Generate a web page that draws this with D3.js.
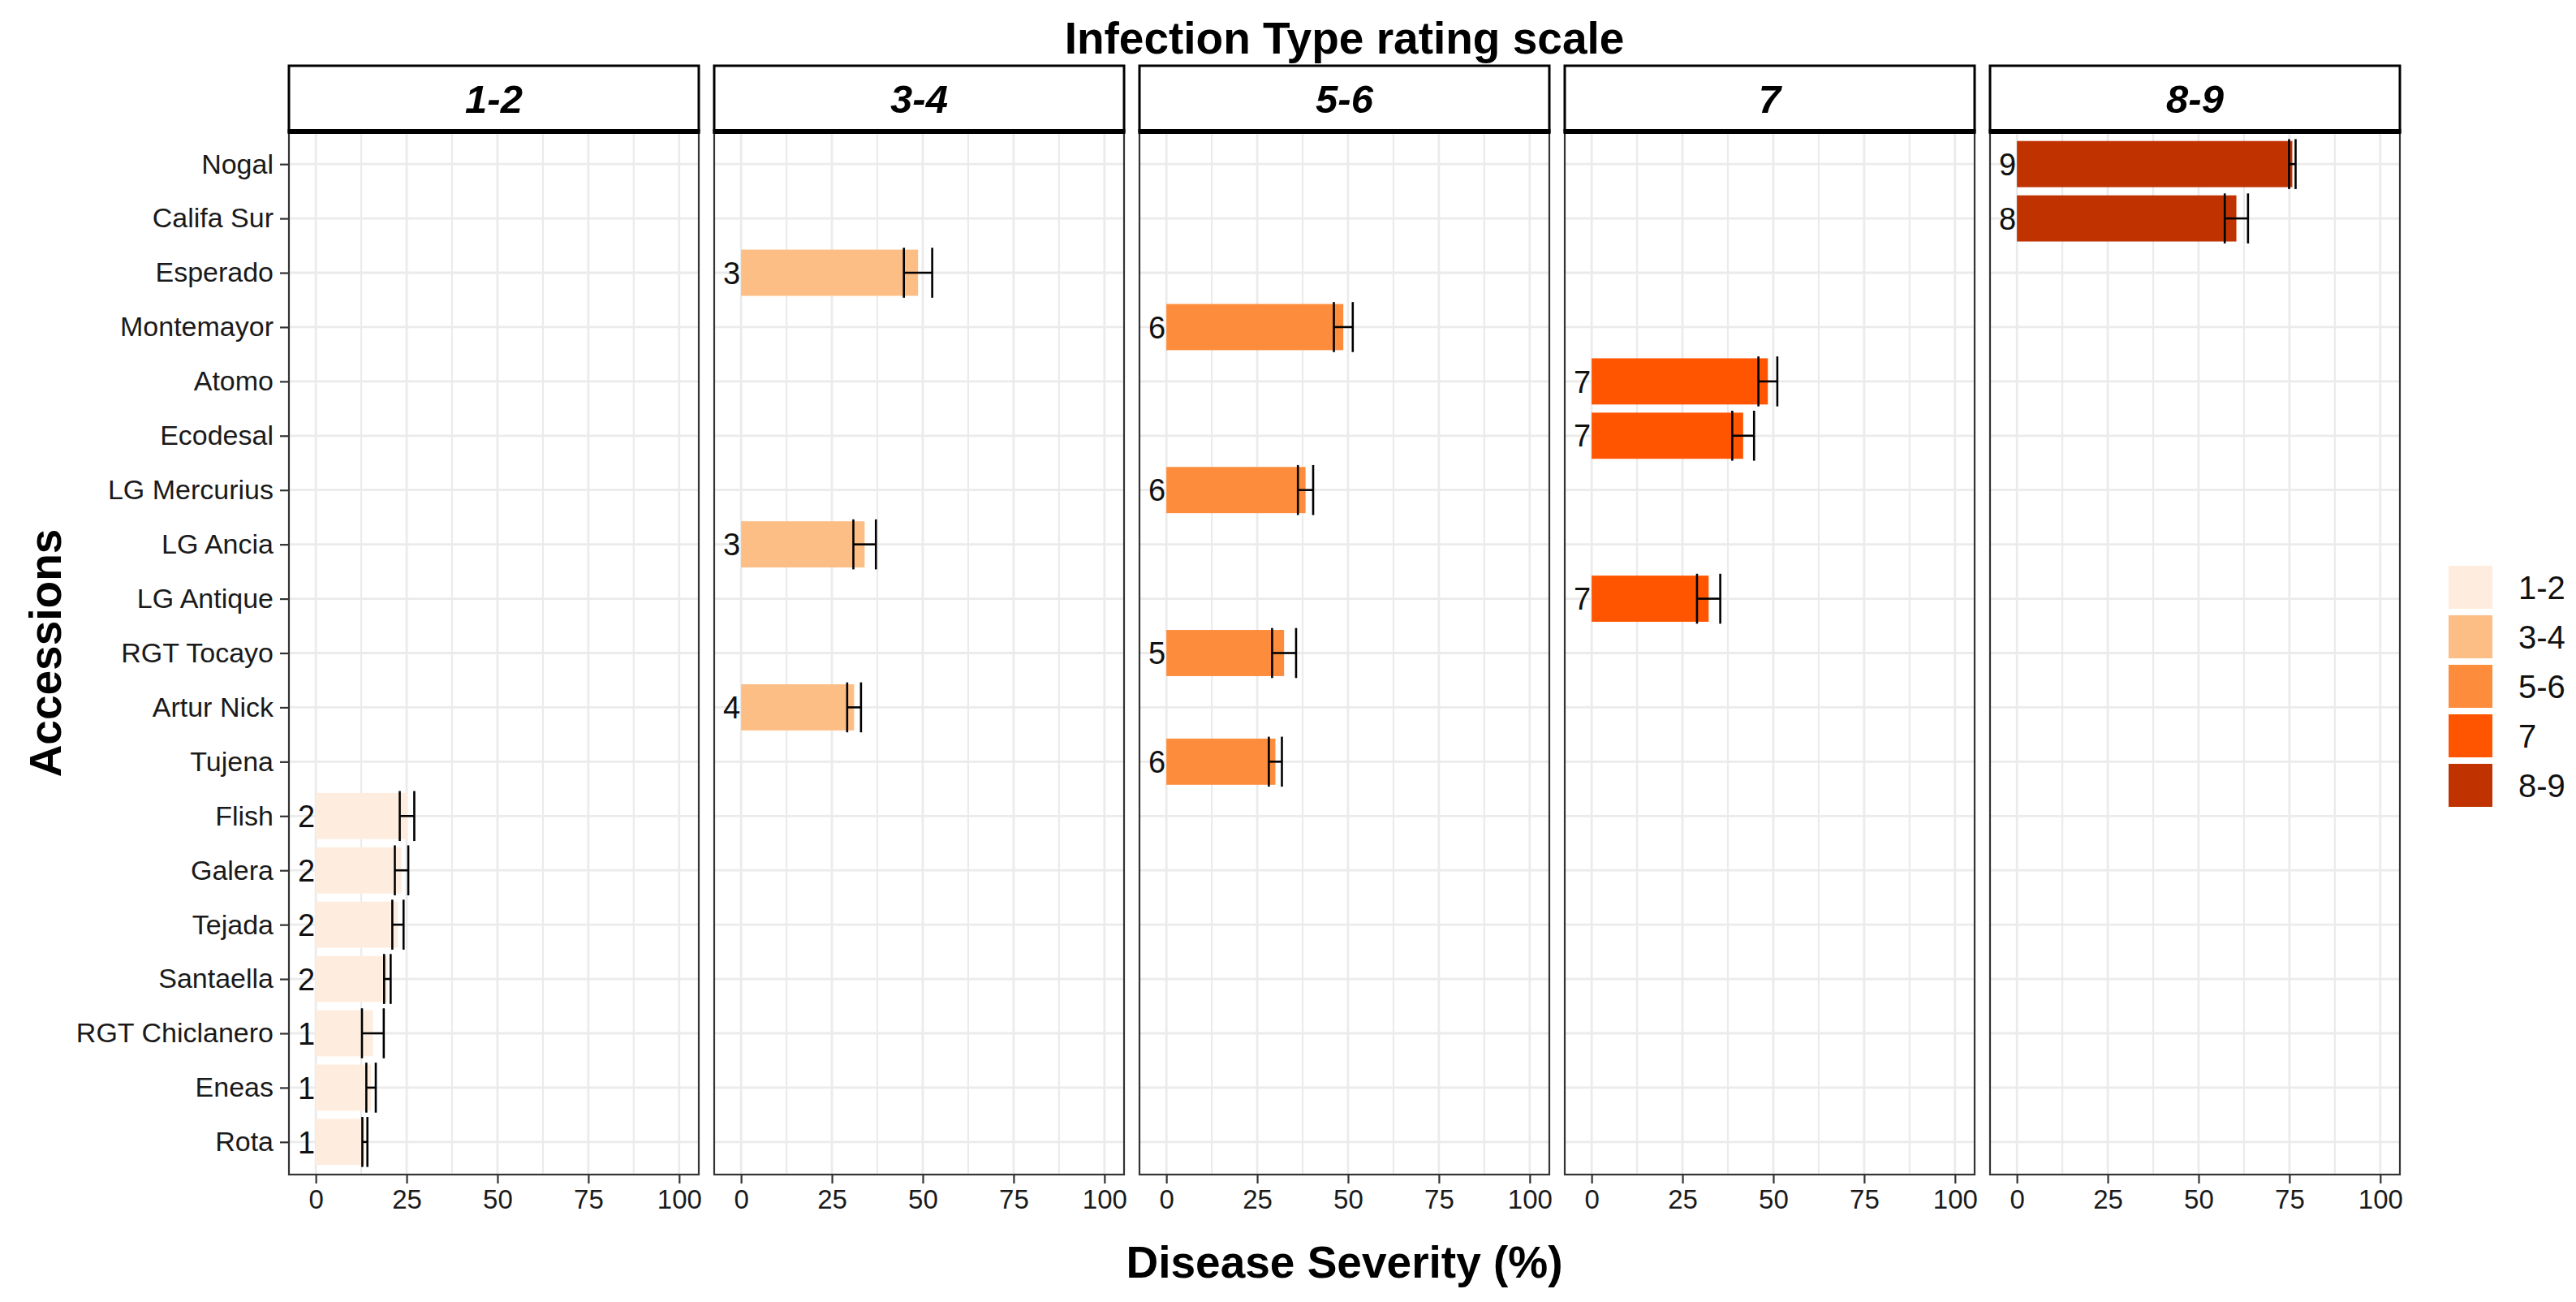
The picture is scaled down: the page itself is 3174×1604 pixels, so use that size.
<!DOCTYPE html>
<html>
<head>
<meta charset="utf-8">
<script src="https://cdn.jsdelivr.net/npm/d3@7"></script>
<style>
  body { margin: 0; background: #fff; }
  svg text { font-family: "Liberation Sans", Arial, sans-serif; }
</style>
</head>
<body>
<div id="chart"></div>
<script>
// accessions, top to bottom
let accessions = ["Nogal","Califa Sur","Esperado","Montemayor","Atomo","Ecodesal","LG Mercurius","LG Ancia","LG Antique","RGT Tocayo","Artur Nick","Tujena","Flish","Galera","Tejada","Santaella","RGT Chiclanero","Eneas","Rota"];
let ratingGroup = ["8-9","8-9","3-4","5-6","7","7","5-6","3-4","7","5-6","3-4","5-6","1-2","1-2","1-2","1-2","1-2","1-2","1-2"];
let infectionType = [9,8,3,6,7,7,6,3,7,5,4,6,2,2,2,2,1,1,1];
let severity = [75.8,60.4,48.7,48.7,48.5,41.7,38.3,34.0,32.2,32.4,31.1,30.0,25.1,23.6,22.6,19.7,15.7,15.2,13.5];
let sdev = [0.9,3.2,3.9,2.6,2.6,3.0,2.1,3.1,3.2,3.3,1.9,1.8,2.0,1.85,1.55,0.9,3.0,1.3,0.7];

let groups = ["1-2","3-4","5-6","7","8-9"];
let groupColors = ["#FEEDDE","#FDBE85","#FD8D3C","#FF5500","#C03300"];
let xTicks = [0,25,50,75,100];
let xMinor = [12.5,37.5,62.5,87.5];

function main() {
  let width = 3174, height = 1604;
  let panelTop = 162, panelBottom = 1447;
  let stripTop = 81;
  let panelLeft = 356, panelW = 505, panelGap = 19;

  let data = accessions.map((a, i) => ({
    acc: a, grp: ratingGroup[i], it: infectionType[i], sev: severity[i], sd: sdev[i]
  }));

  let color = d3.scaleOrdinal().domain(groups).range(groupColors);

  let y = d3.scalePoint()
    .domain(accessions)
    .range([panelTop, panelBottom])
    .padding(0.6);
  let step = y.step();
  let barH = step * 0.85;
  let errH = step * 0.92;

  const svg = d3.select("#chart").append("svg")
    .attr("width", width)
    .attr("height", height)
    .attr("viewBox", [0, 0, width, height]);

  svg.append("rect").attr("width", width).attr("height", height).attr("fill", "#fff");

  groups.forEach(function(g, k) {
    let left = panelLeft + k * (panelW + panelGap);
    let x = d3.scaleLinear().domain([-7.4, 105.4]).range([left, left + panelW]);
    let p = svg.append("g");

    // grid
    p.selectAll("line.minor").data(xMinor).join("line")
      .attr("x1", d => x(d)).attr("x2", d => x(d))
      .attr("y1", panelTop).attr("y2", panelBottom)
      .attr("stroke", "#EBEBEB").attr("stroke-width", 2.2);
    p.selectAll("line.vmajor").data(xTicks).join("line")
      .attr("x1", d => x(d)).attr("x2", d => x(d))
      .attr("y1", panelTop).attr("y2", panelBottom)
      .attr("stroke", "#EBEBEB").attr("stroke-width", 2.8);
    p.selectAll("line.hmajor").data(accessions).join("line")
      .attr("x1", left).attr("x2", left + panelW)
      .attr("y1", d => y(d)).attr("y2", d => y(d))
      .attr("stroke", "#EBEBEB").attr("stroke-width", 2.8);

    let rows = data.filter(d => d.grp == g);

    p.selectAll("rect.bar").data(rows).join("rect")
      .attr("x", x(0))
      .attr("y", d => y(d.acc) - barH / 2)
      .attr("width", d => x(d.sev) - x(0))
      .attr("height", barH)
      .attr("fill", d => color(d.grp));

    let eb = p.selectAll("g.err").data(rows).join("g")
      .attr("stroke", "#000").attr("stroke-width", 2.6);
    eb.append("line")
      .attr("x1", d => x(d.sev - d.sd)).attr("x2", d => x(d.sev + d.sd))
      .attr("y1", d => y(d.acc)).attr("y2", d => y(d.acc));
    eb.append("line")
      .attr("x1", d => x(d.sev - d.sd)).attr("x2", d => x(d.sev - d.sd))
      .attr("y1", d => y(d.acc) - errH / 2).attr("y2", d => y(d.acc) + errH / 2);
    eb.append("line")
      .attr("x1", d => x(d.sev + d.sd)).attr("x2", d => x(d.sev + d.sd))
      .attr("y1", d => y(d.acc) - errH / 2).attr("y2", d => y(d.acc) + errH / 2);

    p.selectAll("text.it").data(rows).join("text")
      .attr("x", x(0) - 1)
      .attr("y", d => y(d.acc))
      .attr("dy", "0.36em")
      .attr("text-anchor", "end")
      .attr("font-size", 38)
      .attr("fill", "#111")
      .text(d => d.it);

    // panel border
    p.append("rect")
      .attr("x", left).attr("y", panelTop)
      .attr("width", panelW).attr("height", panelBottom - panelTop)
      .attr("fill", "none").attr("stroke", "#333").attr("stroke-width", 2.2);

    // strip
    p.append("rect")
      .attr("x", left).attr("y", stripTop)
      .attr("width", panelW).attr("height", panelTop - stripTop)
      .attr("fill", "#fff").attr("stroke", "#000").attr("stroke-width", 3);
    p.append("line")
      .attr("x1", left - 1.5).attr("x2", left + panelW + 1.5)
      .attr("y1", panelTop).attr("y2", panelTop)
      .attr("stroke", "#000").attr("stroke-width", 6);
    p.append("text")
      .attr("x", left + panelW / 2)
      .attr("y", (stripTop + panelTop) / 2)
      .attr("dy", "0.36em")
      .attr("text-anchor", "middle")
      .attr("font-size", 49)
      .attr("font-weight", "bold")
      .attr("font-style", "italic")
      .text(g);

    // x axis
    let xAxis = d3.axisBottom(x).tickValues(xTicks).tickSize(11).tickPadding(8).tickSizeOuter(0);
    let ax = p.append("g")
      .attr("transform", `translate(0,${panelBottom})`)
      .call(xAxis);
    ax.select(".domain").remove();
    ax.selectAll(".tick line").attr("stroke", "#333").attr("stroke-width", 2.2);
    ax.selectAll(".tick text")
      .attr("font-size", 33)
      .attr("fill", "#1a1a1a")
      .attr("font-family", "'Liberation Sans', Arial, sans-serif");
  });

  // y axis on the first panel
  let yAxis = d3.axisLeft(y).tickSize(11).tickPadding(8);
  let ay = svg.append("g")
    .attr("transform", `translate(${panelLeft},0)`)
    .call(yAxis);
  ay.select(".domain").remove();
  ay.selectAll(".tick line").attr("stroke", "#333").attr("stroke-width", 2.2);
  ay.selectAll(".tick text")
    .attr("font-size", 34)
    .attr("fill", "#1a1a1a")
    .attr("font-family", "'Liberation Sans', Arial, sans-serif");

  let plotMid = panelLeft + (5 * panelW + 4 * panelGap) / 2;

  svg.append("text")
    .attr("x", plotMid)
    .attr("y", 46)
    .attr("dy", "0.36em")
    .attr("text-anchor", "middle")
    .attr("font-size", 55)
    .attr("font-weight", "bold")
    .text("Infection Type rating scale");

  svg.append("text")
    .attr("x", plotMid)
    .attr("y", 1554)
    .attr("dy", "0.36em")
    .attr("text-anchor", "middle")
    .attr("font-size", 55)
    .attr("font-weight", "bold")
    .text("Disease Severity (%)");

  svg.append("text")
    .attr("transform", `translate(55,${(panelTop + panelBottom) / 2}) rotate(-90)`)
    .attr("dy", "0.36em")
    .attr("text-anchor", "middle")
    .attr("font-size", 55)
    .attr("font-weight", "bold")
    .text("Accessions");

  // legend
  let legend = svg.append("g").attr("transform", "translate(3017,697)");
  let items = legend.selectAll("g").data(groups).join("g")
    .attr("transform", (d, i) => `translate(0,${i * 61})`);
  items.append("rect")
    .attr("width", 54).attr("height", 53)
    .attr("fill", d => color(d));
  items.append("text")
    .attr("x", 86)
    .attr("y", 27)
    .attr("dy", "0.36em")
    .attr("font-size", 40)
    .attr("fill", "#111")
    .text(d => d);
}

main();
</script>
</body>
</html>
